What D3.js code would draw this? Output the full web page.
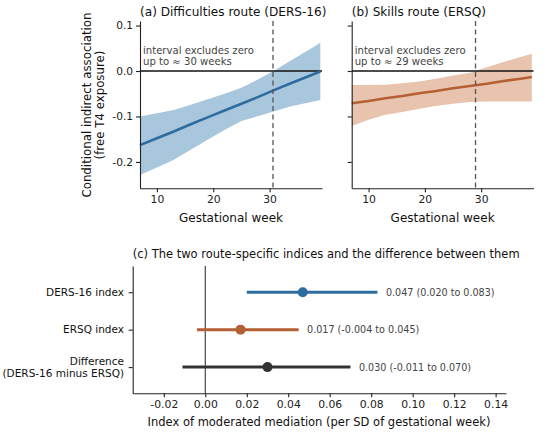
<!DOCTYPE html>
<html><head><meta charset="utf-8">
<script src="https://cdn.jsdelivr.net/npm/d3@7"></script>
<style>
body{margin:0;background:#fff;}
svg text{font-family:"DejaVu Sans",sans-serif;}
</style></head>
<body><svg id="c" width="550" height="433"></svg>
<script>
// ---- data ----
const weeks = [7,10,13,16,19,22,25,28,31,34,37,39];
const dersEst = [-0.163,-0.148,-0.133,-0.117,-0.102,-0.087,-0.072,-0.057,-0.041,-0.026,-0.011,-0.001];
const dersLo  = [-0.229,-0.212,-0.195,-0.173,-0.151,-0.130,-0.110,-0.099,-0.088,-0.077,-0.069,-0.064];
const dersHi  = [-0.100,-0.093,-0.086,-0.074,-0.062,-0.050,-0.037,-0.018,0.002,0.025,0.047,0.062];
const ersqEst = [-0.071,-0.066,-0.060,-0.055,-0.049,-0.044,-0.038,-0.033,-0.028,-0.022,-0.017,-0.013];
const ersqLo  = [-0.121,-0.107,-0.096,-0.090,-0.083,-0.077,-0.072,-0.068,-0.067,-0.067,-0.067,-0.067];
const ersqHi  = [-0.031,-0.031,-0.030,-0.027,-0.023,-0.017,-0.010,-0.004,0.008,0.020,0.031,0.038];
const cutoffs = [30.6, 29];
const panelTitles = ["(a) Difficulties route (DERS-16)","(b) Skills route (ERSQ)"];
const notes = [["interval excludes zero","up to \u2248 30 weeks"],["interval excludes zero","up to \u2248 29 weeks"]];
const xTicksTop = [10,20,30];
const yTicksTop = [0.1,0.0,-0.1,-0.2];

const idxLabels = [["DERS-16 index"],["ERSQ index"],["Difference","(DERS-16 minus ERSQ)"]];
const idxEst = [0.047,0.017,0.030];
const idxLo  = [0.020,-0.004,-0.011];
const idxHi  = [0.083,0.045,0.070];
const xTicksBot = [-0.02,0.00,0.02,0.04,0.06,0.08,0.10,0.12,0.14];

const colors = ["#2e6ca0","#b45f34","#333333"];
const bands = ["#a8c6dc","#e8c3ae"];

const svg = d3.select("#c");
const axisCol = "#222";

function styleAxis(g,fs){
  g.selectAll("path.domain").attr("stroke",axisCol).attr("stroke-width",1.1);
  g.selectAll(".tick line").attr("stroke",axisCol).attr("stroke-width",1.1);
  g.selectAll(".tick text").attr("fill","#222").style("font-size",fs+"px").style("font-family","DejaVu Sans");
}

// ---- top panels ----
const panels = [
  {x0:140,x1:322,est:dersEst,lo:dersLo,hi:dersHi},
  {x0:351.7,x1:533.5,est:ersqEst,lo:ersqLo,hi:ersqHi}
];
const yT = d3.scaleLinear().domain([-0.258,0.11]).range([188.3,21]);
panels.forEach((p,i)=>{
  const x = d3.scaleLinear().domain([7,39.3]).range([p.x0,p.x1]);
  const g = svg.append("g");
  const area = d3.area().x((d,j)=>x(weeks[j])).y0((d,j)=>yT(p.lo[j])).y1((d,j)=>yT(p.hi[j]));
  g.append("path").attr("d",area(weeks)).attr("fill",bands[i]);
  g.append("line").attr("x1",p.x0).attr("x2",p.x1).attr("y1",yT(0)).attr("y2",yT(0)).attr("stroke","#111").attr("stroke-width",1.3);
  const line = d3.line().x((d,j)=>x(weeks[j])).y((d,j)=>yT(p.est[j]));
  g.append("path").attr("d",line(weeks)).attr("fill","none").attr("stroke",colors[i]).attr("stroke-width",2.6);
  g.append("line").attr("x1",x(cutoffs[i])).attr("x2",x(cutoffs[i])).attr("y1",yT.range()[1]).attr("y2",yT.range()[0])
    .attr("stroke","#555").attr("stroke-width",1.3).attr("stroke-dasharray","5,3.5");
  const gx = g.append("g").attr("transform",`translate(0,${yT.range()[0]})`).call(d3.axisBottom(x).tickValues(xTicksTop).tickSize(4).tickPadding(3).tickSizeOuter(0));
  styleAxis(gx,10.8);
  const gy = g.append("g").attr("transform",`translate(${p.x0},0)`).call(d3.axisLeft(yT).tickValues(yTicksTop).tickSize(4).tickPadding(3).tickSizeOuter(0)
     .tickFormat(i===0?(d=>d===0?"0.0":d3.format(".1f")(d).replace("\u2212","-")):()=>""));
  styleAxis(gy,10.6);
  g.append("text").attr("x",p.x0).attr("y",16).text(panelTitles[i]).attr("fill","#111").style("font-size","12.1px");
  notes[i].forEach((t,k)=>g.append("text").attr("x",p.x0+3).attr("y",53.5+k*11.5).text(t).attr("fill","#444").style("font-size","10.1px"));
  g.append("text").attr("x",(p.x0+p.x1)/2).attr("y",222).attr("text-anchor","middle").text("Gestational week").attr("fill","#111").style("font-size","12px");
});
// y label
const yl = svg.append("text").attr("transform",`translate(91,105) rotate(-90)`).attr("text-anchor","middle").attr("fill","#111").style("font-size","11.8px");
yl.append("tspan").attr("x",0).attr("dy",0).text("Conditional indirect association");
yl.append("tspan").attr("x",0).attr("dy",13.3).text("(free T4 exposure)");

// ---- bottom panel ----
const xB = d3.scaleLinear().domain([-0.035,0.145]).range([132.7,506]);
const yB = d3.scaleLinear().domain([-0.7,2.7]).range([266,393.3]);
const gb = svg.append("g");
gb.append("line").attr("x1",xB(0)).attr("x2",xB(0)).attr("y1",266).attr("y2",393.3).attr("stroke","#444").attr("stroke-width",1.2);
idxEst.forEach((v,i)=>{
  gb.append("line").attr("x1",xB(idxLo[i])).attr("x2",xB(idxHi[i])).attr("y1",yB(i)).attr("y2",yB(i)).attr("stroke",colors[i]).attr("stroke-width",3);
  gb.append("circle").attr("cx",xB(v)).attr("cy",yB(i)).attr("r",5).attr("fill",colors[i]);
  const f = d3.format(".3f");
  const s = d=>f(d).replace("\u2212","-");
  gb.append("text").attr("x",xB(idxHi[i])+8.5).attr("y",yB(i)+3.6).text(`${s(v)} (${s(idxLo[i])} to ${s(idxHi[i])})`).attr("fill","#444").style("font-size","9.6px");
});
const gbx = gb.append("g").attr("transform","translate(0,393.3)").call(d3.axisBottom(xB).tickValues(xTicksBot).tickSize(4).tickPadding(3).tickSizeOuter(0).tickFormat(d=>d3.format(".2f")(d).replace("\u2212","-")));
styleAxis(gbx,10.8);
const gby = gb.append("g").attr("transform","translate(132.7,0)").call(d3.axisLeft(yB).tickValues([0,1,2]).tickSize(4).tickSizeOuter(0).tickFormat(""));
styleAxis(gby,10.5);
idxLabels.forEach((lines,i)=>{
  const t = gb.append("text").attr("x",124).attr("text-anchor","end").attr("fill","#111").style("font-size","10.5px");
  const n = lines.length;
  lines.forEach((l,k)=>t.append("tspan").attr("x",124).attr("y",yB(i)+3.8+(k-(n-1)/2)*12.5).text(l));
});
gb.append("text").attr("x",132.7).attr("y",258).text("(c) The two route-specific indices and the difference between them").attr("fill","#111").style("font-size","11.5px");
gb.append("text").attr("x",319).attr("y",426).attr("text-anchor","middle").text("Index of moderated mediation (per SD of gestational week)").attr("fill","#111").style("font-size","11.5px");
</script></body></html>
